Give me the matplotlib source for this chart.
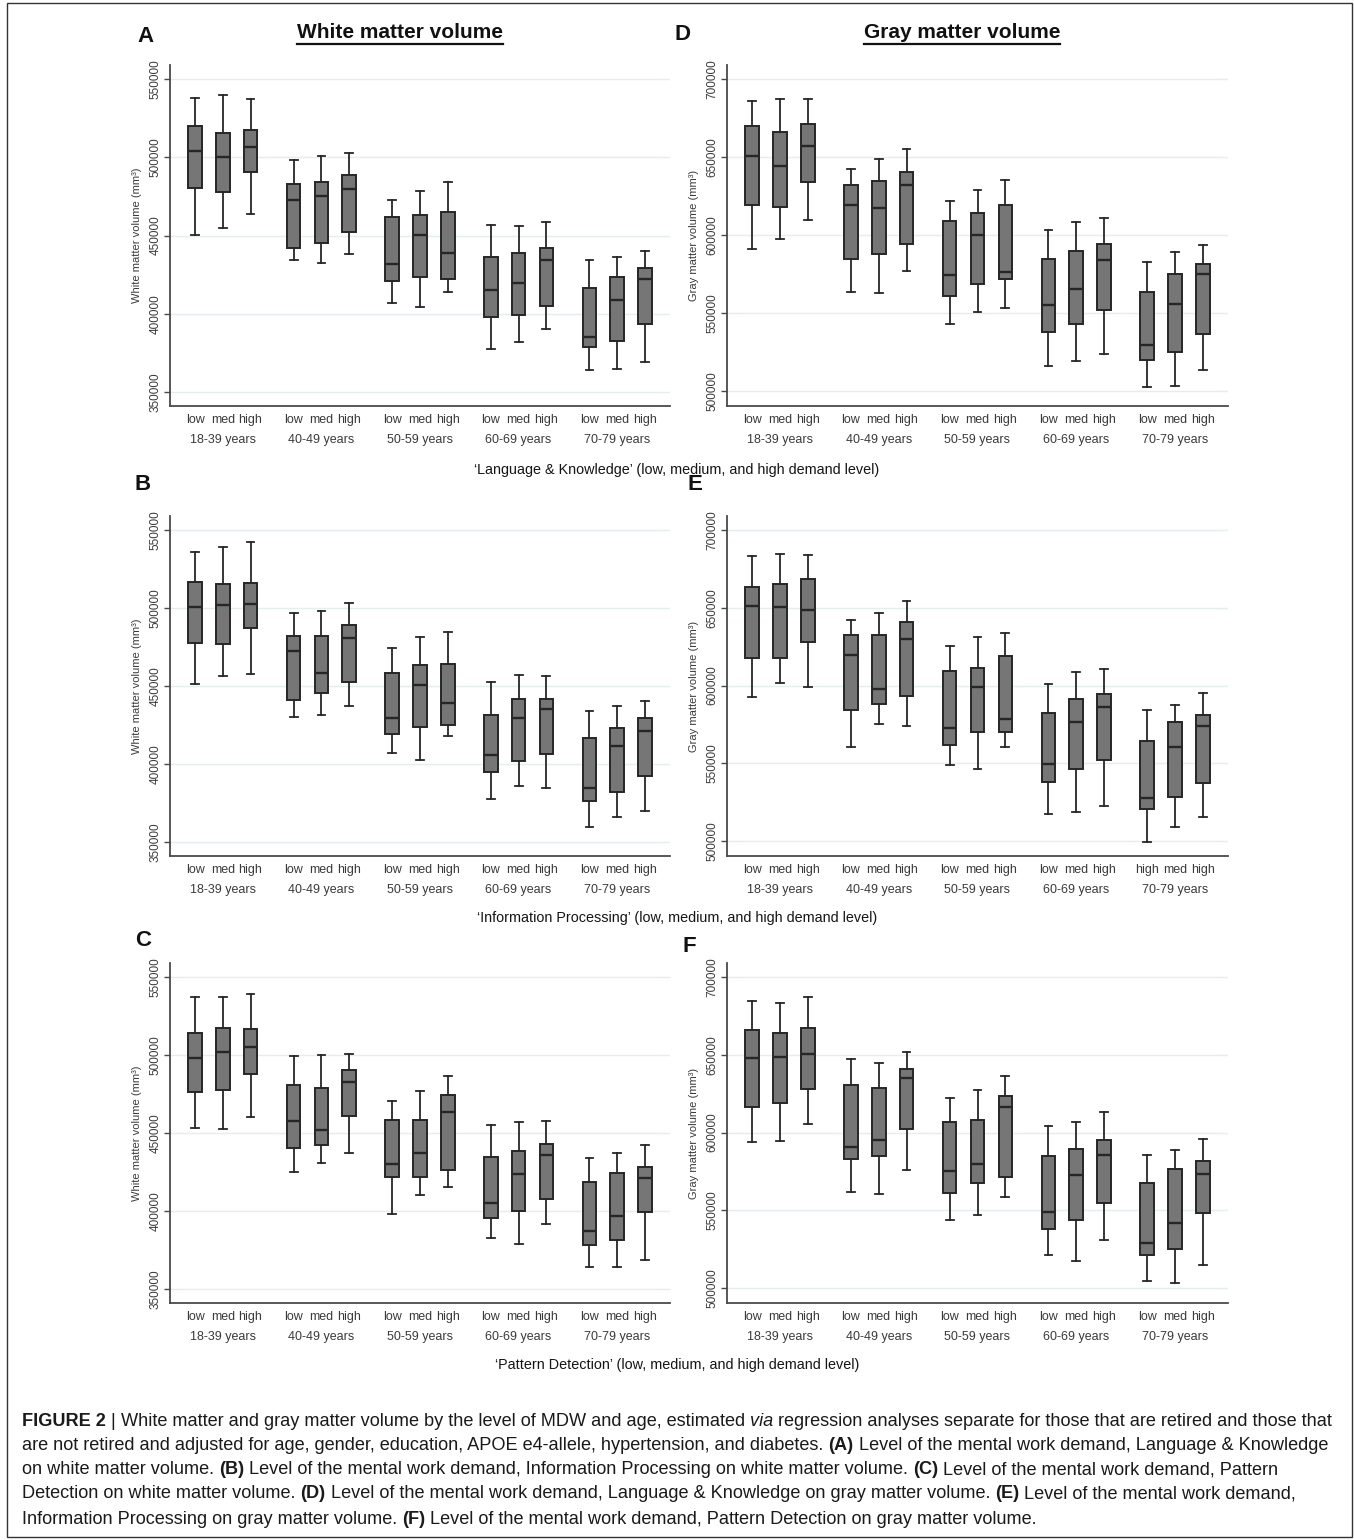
import matplotlib
matplotlib.use("Agg")
import matplotlib.pyplot as plt
from matplotlib.lines import Line2D
from matplotlib.patches import Rectangle

# ---------------- data ----------------
age_groups = ["18-39 years", "40-49 years", "50-59 years", "60-69 years", "70-79 years"]
levels = ["low", "med", "high"]
levels_E_last = ["high", "med", "high"]

wm_ticks = [350000, 400000, 450000, 500000, 550000]
gm_ticks = [500000, 550000, 600000, 650000, 700000]

# Panel A: Language & Knowledge, white matter (15 boxes: age group x level)
wm_lang_hi = [537900, 539600, 537400, 498100, 500600, 502600, 472800, 478300, 484500, 456600, 456200, 458700, 434500, 436000, 440200]
wm_lang_q3 = [519800, 515300, 517700, 482800, 484000, 488500, 461900, 463000, 465300, 436400, 439100, 441700, 416600, 423600, 429100]
wm_lang_med = [503800, 500000, 506800, 472800, 475100, 480000, 431700, 450200, 438500, 414900, 419800, 434300, 385300, 408900, 422100]
wm_lang_q1 = [480200, 477900, 490900, 442300, 445500, 452300, 420900, 423600, 422100, 397900, 399400, 405100, 378500, 382800, 393400]
wm_lang_lo = [450200, 455100, 464000, 434300, 432600, 437900, 406800, 404500, 414000, 377700, 381900, 390400, 364000, 364500, 368900]

# Panel B: Information Processing, white matter
wm_info_hi = [535900, 539100, 542300, 497100, 497900, 503000, 474200, 481300, 484500, 452500, 457200, 456500, 433900, 437100, 440700]
wm_info_q3 = [516900, 515400, 516300, 482100, 481900, 489400, 458200, 463600, 464400, 431100, 441400, 441800, 416400, 423000, 429200]
wm_info_med = [500700, 502200, 502800, 472700, 458200, 480800, 429600, 450500, 439000, 405500, 429200, 435200, 384400, 411700, 421100]
wm_info_q1 = [477600, 477200, 487500, 441100, 445800, 452500, 419400, 423900, 425100, 395000, 401700, 406400, 376300, 382200, 392300]
wm_info_lo = [451200, 456300, 457600, 430000, 431700, 437300, 407000, 402700, 417900, 377300, 385600, 384400, 359400, 366000, 369600]

# Panel C: Pattern Detection, white matter
wm_patt_hi = [537200, 537400, 539100, 499100, 500000, 500400, 470700, 476700, 486300, 455300, 457300, 457700, 434000, 437400, 442300]
wm_patt_q3 = [514100, 517300, 516500, 480800, 478800, 490600, 458500, 458100, 474400, 434400, 438700, 442900, 418600, 424400, 428400]
wm_patt_med = [497900, 502100, 504900, 457500, 451700, 482500, 430100, 437400, 463700, 404900, 423900, 435700, 387000, 397000, 421200]
wm_patt_q1 = [476300, 477600, 488000, 440200, 442100, 460900, 421600, 421600, 426100, 395500, 399800, 407900, 378400, 381400, 399400]
wm_patt_lo = [453200, 452800, 460500, 425200, 431000, 437400, 398300, 410000, 415400, 382700, 378600, 391900, 363900, 363900, 368600]

# Panel D: Language & Knowledge, gray matter
gm_lang_hi = [685700, 687200, 687200, 642600, 648500, 654900, 621900, 628900, 635300, 603000, 608100, 611100, 583000, 588900, 593400]
gm_lang_q3 = [669600, 666200, 671500, 632100, 634900, 640600, 608900, 614000, 619600, 584500, 590000, 594300, 563800, 574900, 581700]
gm_lang_med = [650600, 644500, 657000, 619100, 617400, 632300, 574500, 600000, 576400, 554900, 565300, 584300, 529400, 556000, 575100]
gm_lang_q1 = [619100, 618100, 633800, 584700, 587700, 594000, 561100, 568700, 571900, 538100, 543000, 552100, 519800, 525100, 536800]
gm_lang_lo = [591100, 597400, 609800, 563800, 563200, 576800, 543000, 550900, 553600, 516200, 519600, 524000, 502800, 503400, 513400]

# Panel E: Information Processing, gray matter
gm_info_hi = [683300, 684800, 683700, 642300, 646600, 654500, 625300, 631100, 634100, 601300, 609000, 610900, 584100, 587300, 595500]
gm_info_q3 = [663300, 665000, 668200, 632600, 632800, 641000, 609700, 611200, 619100, 582200, 591400, 594800, 564400, 576800, 581100]
gm_info_med = [650900, 650400, 648300, 619700, 598100, 629800, 573000, 599100, 578800, 549800, 576400, 586500, 527900, 560300, 573800]
gm_info_q1 = [618000, 617800, 627900, 584500, 588000, 593100, 562000, 570200, 570400, 537800, 546100, 551900, 520800, 528500, 537300]
gm_info_lo = [592700, 601700, 598900, 560300, 575100, 574200, 548700, 546300, 560300, 517200, 518700, 522500, 499400, 509000, 515400]

# Panel F: Pattern Detection, gray matter
gm_patt_hi = [684500, 683600, 687200, 647000, 644700, 651900, 622300, 627700, 636200, 604000, 606600, 613200, 585300, 589000, 595700]
gm_patt_q3 = [665700, 664000, 667400, 630600, 628900, 641100, 607000, 608300, 623600, 584700, 589400, 595100, 567700, 576600, 581900]
gm_patt_med = [648100, 648700, 650400, 590900, 595500, 634900, 575100, 580000, 616400, 548900, 572600, 585300, 528900, 542100, 573200]
gm_patt_q1 = [616400, 618900, 627900, 582800, 584900, 602300, 560900, 567700, 571300, 537900, 543600, 554900, 521300, 525300, 548300]
gm_patt_lo = [594000, 594700, 605700, 562100, 560600, 576200, 543800, 546800, 558500, 521500, 517700, 531300, 504700, 503200, 515100]

axis_titles = [
    "\u2018Language & Knowledge\u2019 (low, medium, and high demand level)",
    "\u2018Information Processing\u2019 (low, medium, and high demand level)",
    "\u2018Pattern Detection\u2019 (low, medium, and high demand level)",
]

# ---------------- layout ----------------
W, H = 1354, 1540
fig = plt.figure(figsize=(W / 100, H / 100), dpi=100)
fig.patch.set_facecolor("white")
FONT = "Liberation Sans"
plt.rcParams["font.family"] = [FONT, "DejaVu Sans"]


def fx(x):
    return x / W


def fy(y):
    return 1 - y / H


row_top = [65, 516, 963]
row_bot = [406, 856, 1303]
col_left = [170, 727]
col_right = [670, 1228]

BOX_FACE = "#767676"
EDGE = "#262626"
SPINE = "#4a4a4a"
TXT = "#3a3a3a"

positions = [g * 3.55 + l for g in range(5) for l in range(3)]
group_centers = [g * 3.55 + 1 for g in range(5)]

panels = [
    ("A", 0, 0, (wm_lang_lo, wm_lang_q1, wm_lang_med, wm_lang_q3, wm_lang_hi), "wm", levels * 5, (145, 36)),
    ("B", 1, 0, (wm_info_lo, wm_info_q1, wm_info_med, wm_info_q3, wm_info_hi), "wm", levels * 5, (143, 485)),
    ("C", 2, 0, (wm_patt_lo, wm_patt_q1, wm_patt_med, wm_patt_q3, wm_patt_hi), "wm", levels * 5, (143, 941)),
    ("D", 0, 1, (gm_lang_lo, gm_lang_q1, gm_lang_med, gm_lang_q3, gm_lang_hi), "gm", levels * 5, (683, 35)),
    ("E", 1, 1, (gm_info_lo, gm_info_q1, gm_info_med, gm_info_q3, gm_info_hi), "gm", levels * 4 + levels_E_last, (695, 485)),
    ("F", 2, 1, (gm_patt_lo, gm_patt_q1, gm_patt_med, gm_patt_q3, gm_patt_hi), "gm", levels * 5, (689, 947)),
]

for letter, r, c, (lo, q1, med, q3, hi), kind, xlabels, lpos in panels:
    left, right, top, bot = col_left[c], col_right[c], row_top[r], row_bot[r]
    ax = fig.add_axes([fx(left), fy(bot), (right - left) / W, (bot - top) / H])
    stats = [
        dict(whislo=lo[i], q1=q1[i], med=med[i], q3=q3[i], whishi=hi[i], fliers=[])
        for i in range(15)
    ]
    ax.bxp(
        stats, positions=positions, widths=0.49, capwidths=0.28,
        patch_artist=True, showfliers=False,
        boxprops=dict(facecolor=BOX_FACE, edgecolor=EDGE, linewidth=1.4),
        medianprops=dict(color=EDGE, linewidth=1.7),
        whiskerprops=dict(color=EDGE, linewidth=1.3),
        capprops=dict(color=EDGE, linewidth=1.3),
    )
    if kind == "wm":
        ticks = wm_ticks
        ax.set_ylim(341000, 559000)
        ylab = "White matter volume (mm\u00b3)"
    else:
        ticks = gm_ticks
        ax.set_ylim(490500, 709000)
        ylab = "Gray matter volume (mm\u00b3)"
    ax.set_xlim(-0.9, 17.1)
    ax.set_yticks(ticks)
    ax.set_yticklabels([str(t) for t in ticks], rotation=90, va="center")
    ax.tick_params(axis="y", length=4, width=1, color=SPINE, labelsize=8.5,
                   labelcolor=TXT, pad=2)
    ax.set_xticks(positions)
    ax.set_xticklabels(xlabels)
    ax.tick_params(axis="x", length=0, pad=6, labelsize=9, labelcolor=TXT)
    for g, name in enumerate(age_groups):
        ax.annotate(name, xy=(group_centers[g], 0), xycoords=("data", "axes fraction"),
                    xytext=(0, -34 * 0.72), textcoords="offset points",
                    ha="center", va="center", fontsize=9, color=TXT)
    ax.set_ylabel(ylab, fontsize=8, color=TXT)
    ax.yaxis.label.set_va("center")
    ax.yaxis.set_label_coords(-33 / (right - left), 0.5)
    ax.yaxis.grid(True, color="#e4eeee", linewidth=1)
    ax.set_axisbelow(True)
    for s in ["top", "right"]:
        ax.spines[s].set_visible(False)
    for s in ["left", "bottom"]:
        ax.spines[s].set_color(SPINE)
        ax.spines[s].set_linewidth(1.3)
    ax.set_facecolor("white")
    fig.text(fx(lpos[0]), fy(lpos[1]), letter, fontsize=16, fontweight="bold",
             ha="center", va="center", color="#111111")

# shared x-axis titles
for y, t in zip([470, 918, 1365], axis_titles):
    fig.text(fx(677), fy(y), t, fontsize=10.4, ha="center", va="center", color="#151515")

# column titles (underlined)
titles = []
for x, t in [(400, "White matter volume"), (962, "Gray matter volume")]:
    titles.append(fig.text(fx(x), fy(33), t, fontsize=15, fontweight="bold",
                           ha="center", va="center", color="#111111"))

fig.canvas.draw()
renderer = fig.canvas.get_renderer()
for t in titles:
    bb = t.get_window_extent(renderer)
    yline = bb.y0 - 1
    fig.add_artist(Line2D([bb.x0 / W, bb.x1 / W], [yline / H, yline / H],
                          transform=fig.transFigure, color="#111111", linewidth=1.6))

# ---------------- caption ----------------
N, B, I = "normal", "bold", "italic"
caption_lines = [
    [("FIGURE 2", B), (" | ", N), ("White matter and gray matter volume by the level of MDW and age, estimated ", N),
     ("via", I), (" regression analyses separate for those that are retired and those that", N)],
    [("are not retired and adjusted for age, gender, education, APOE e4-allele, hypertension, and diabetes. ", N),
     ("(A)", B), (" Level of the mental work demand, Language & Knowledge", N)],
    [("on white matter volume. ", N), ("(B)", B),
     (" Level of the mental work demand, Information Processing on white matter volume. ", N), ("(C)", B),
     (" Level of the mental work demand, Pattern", N)],
    [("Detection on white matter volume. ", N), ("(D)", B),
     (" Level of the mental work demand, Language & Knowledge on gray matter volume. ", N), ("(E)", B),
     (" Level of the mental work demand,", N)],
    [("Information Processing on gray matter volume. ", N), ("(F)", B),
     (" Level of the mental work demand, Pattern Detection on gray matter volume.", N)],
]
line_y = [1422, 1446, 1470, 1494, 1519]
x0 = 22


def draw_line(segs, y, size, measure_only=False):
    x = x0
    made = []
    for txt, st in segs:
        kw = dict(fontsize=size, ha="left", va="center", color="#1a1a1a")
        if st == B:
            kw["fontweight"] = "bold"
        elif st == I:
            kw["fontstyle"] = "italic"
        t = fig.text(fx(x), fy(y), txt, **kw)
        bb = t.get_window_extent(renderer)
        x += bb.width
        made.append(t)
    if measure_only:
        for t in made:
            t.remove()
    return x - x0


w = draw_line(caption_lines[0], line_y[0], 12, measure_only=True)
cap_size = 12 * (1313.0 / w)
for segs, y in zip(caption_lines, line_y):
    draw_line(segs, y, cap_size)

# figure frame
fig.add_artist(Rectangle((fx(7), fy(1537)), fx(1352) - fx(7), fy(3) - fy(1537),
                         transform=fig.transFigure, fill=False, edgecolor="#333333", linewidth=1))

fig.savefig("out.png", dpi=100, facecolor="white")
